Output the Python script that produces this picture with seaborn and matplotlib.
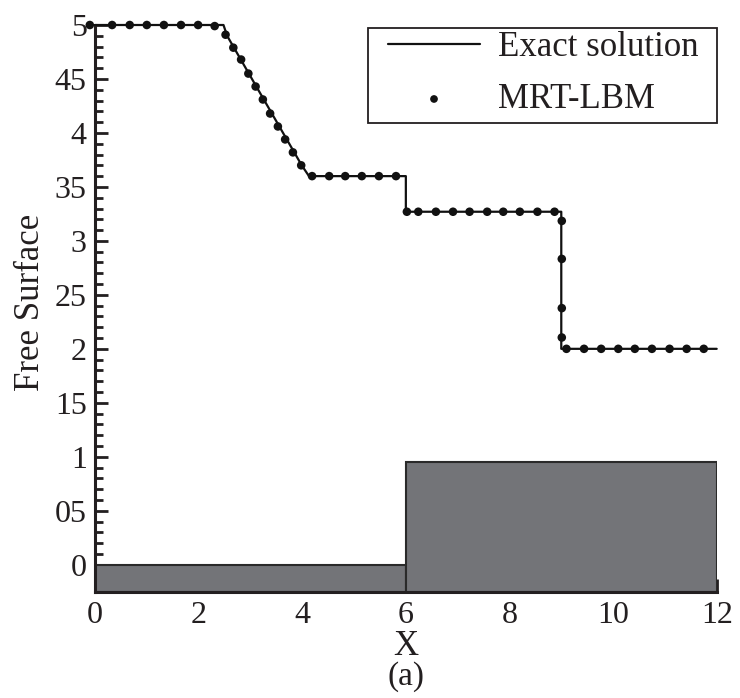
import numpy as np
import pandas as pd
import matplotlib
matplotlib.use("Agg")
import matplotlib.pyplot as plt
from matplotlib.patches import Rectangle
import seaborn as sns

# ---- data ----
exact_x = [0.0, 2.48, 2.55, 3.99, 4.13, 6.0, 6.0, 9.0, 9.0, 12.0]
exact_y = [5.0, 5.0, 4.90, 3.70, 3.60, 3.60, 3.27, 3.27, 2.0, 2.0]

lbm_x = [-0.10, 0.33, 0.67, 1.00, 1.33, 1.66, 1.99, 2.31,
         2.52, 2.67, 2.82, 2.96, 3.10, 3.24, 3.38, 3.53, 3.67, 3.82, 3.98,
         4.19, 4.52, 4.83, 5.15, 5.48, 5.81,
         6.02, 6.24, 6.58, 6.91, 7.23, 7.57, 7.88, 8.20, 8.54, 8.87,
         9.01, 9.01, 9.01, 9.01,
         9.10, 9.44, 9.77, 10.10, 10.42, 10.75, 11.09, 11.42, 11.75]
lbm_y = [5.0, 5.0, 5.0, 5.0, 5.0, 5.0, 5.0, 4.99,
         4.91, 4.79, 4.68, 4.55, 4.43, 4.31, 4.18, 4.06, 3.94, 3.82, 3.70,
         3.60, 3.60, 3.60, 3.60, 3.60, 3.60,
         3.27, 3.27, 3.27, 3.27, 3.27, 3.27, 3.27, 3.27, 3.27, 3.27,
         3.185, 2.833, 2.377, 2.105,
         2.0, 2.0, 2.0, 2.0, 2.0, 2.0, 2.0, 2.0, 2.0]

bed_left = [0.0, 6.0]
bed_width = [6.0, 6.0]
bed_top = [0.0, 0.955]

yticks = [0, 0.5, 1, 1.5, 2, 2.5, 3, 3.5, 4, 4.5, 5]
ytick_labels = ["0", "05", "1", "15", "2", "25", "3", "35", "4", "45", "5"]
xticks = [0, 2, 4, 6, 8, 10, 12]
xtick_labels = ["0", "2", "4", "6", "8", "10", "12"]

# ---- style ----
sns.set_style("ticks")
plt.rcParams["font.family"] = ["Liberation Serif", "DejaVu Serif"]
ink = "#231f20"
plt.rcParams["text.color"] = ink
plt.rcParams["axes.labelcolor"] = ink
plt.rcParams["xtick.color"] = ink
plt.rcParams["ytick.color"] = ink

fig = plt.figure(figsize=(7.40, 6.98), dpi=100)
ax = fig.add_axes([95 / 740, 1 - 591.7 / 698, (716.7 - 95) / 740, (591.7 - 25) / 698])

ymin, ymax = -0.25, 5.0

# bed
ax.bar(bed_left, [t - ymin for t in bed_top], width=bed_width, bottom=ymin,
       align="edge", color="#737478", edgecolor="#2a2a2a", linewidth=1.5, zorder=1)

df_exact = pd.DataFrame({"x": exact_x, "y": exact_y})
df_lbm = pd.DataFrame({"x": lbm_x, "y": lbm_y})

sns.lineplot(data=df_exact, x="x", y="y", sort=False, estimator=None, ax=ax,
             color="#111111", linewidth=1.6, label="Exact solution", zorder=3,
             clip_on=False)
sns.scatterplot(data=df_lbm, x="x", y="y", ax=ax, color="#111111", s=38,
                edgecolor="none", label="MRT-LBM", zorder=4, clip_on=False)

ax.set_xlim(0, 12)
ax.set_ylim(ymin, ymax)

ax.set_xticks(xticks)
ax.set_xticklabels(xtick_labels)
ax.set_yticks(yticks)
ax.set_yticklabels(ytick_labels)
ax.set_xticks(np.arange(0, 12.01, 0.5), minor=True)
ax.set_yticks(np.arange(-0.2, 5.001, 0.1), minor=True)

ax.tick_params(which="major", direction="in", length=9.5, width=2.0,
               labelsize=23, pad=7)
ax.tick_params(which="minor", direction="in", length=5.5, width=2.0)
ax.tick_params(axis="y", which="major", pad=6)

for s in ["top", "right"]:
    ax.spines[s].set_visible(False)
for s in ["left", "bottom"]:
    ax.spines[s].set_linewidth(2.2)
    ax.spines[s].set_color(ink)

ax.set_xlabel("X", fontsize=25)
ax.set_ylabel("Free Surface", fontsize=25)
ax.xaxis.set_label_coords(0.5, -0.068)
ax.yaxis.set_label_coords(-0.077, 0.51)

# legend (contents) + frame box
leg = ax.legend(loc="upper left",
                bbox_to_anchor=((388 - 95) / 621.7, (591.7 - 31) / 566.7),
                borderaxespad=0, fontsize=25, frameon=False, handlelength=2.65,
                handletextpad=0.52, labelspacing=0.55, borderpad=0,
                markerscale=0.9, scatterpoints=1)
frame = Rectangle(((368 - 95) / 621.7, (591.7 - 122.7) / 566.7),
                  (716.7 - 368) / 621.7, (122.7 - 28.3) / 566.7,
                  transform=ax.transAxes, fill=True, facecolor="white",
                  edgecolor=ink, linewidth=1.3, zorder=4.5, clip_on=False)
ax.add_patch(frame)
leg.set_zorder(5)

fig.text(405.8 / 740, 1 - 677 / 698, "(a)", ha="center", va="center", fontsize=24)

fig.savefig("out.png", dpi=100)
